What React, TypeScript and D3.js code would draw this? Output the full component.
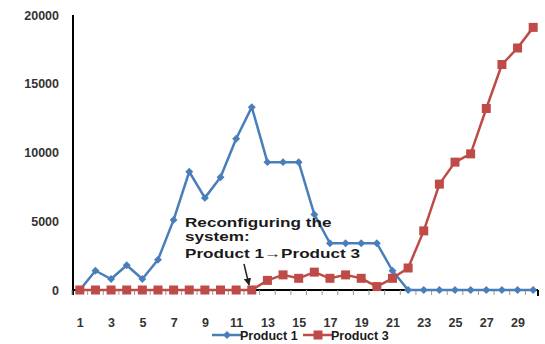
import React, { useEffect, useRef } from "react";
import * as d3 from "d3";

const days = d3.range(1, 31);
const product1 = [0, 1400, 800, 1800, 800, 2200, 5100, 8600, 6700, 8200, 11000, 13300, 9300, 9300, 9300, 5500, 3400, 3400, 3400, 3400, 1400, 0, 0, 0, 0, 0, 0, 0, 0, 0];
const product3 = [0, 0, 0, 0, 0, 0, 0, 0, 0, 0, 0, 0, 700, 1100, 850, 1300, 850, 1100, 850, 250, 850, 1600, 4300, 7700, 9300, 9900, 13200, 16400, 17600, 19100];
const yTicks = [0, 5000, 10000, 15000, 20000];
const seriesNames = ["Product 1", "Product 3"];
const noteLines = ["Reconfiguring the", "system:", "Product 1\u2192Product 3"];

const W = 545, H = 344;
const BLUE = "#4a7ebb";
const RED = "#be4b48";
const FONT = "'Liberation Sans', Arial, sans-serif";

function App() {
  const ref = useRef<SVGSVGElement>(null);

  useEffect(() => {
    const svg = d3.select(ref.current);
    svg.selectAll("*").remove();

    const x = d3.scalePoint<number>().domain(days).range([72, 541]).padding(0.5);
    const y = d3.scaleLinear().domain([0, 20000]).range([290, 15]);

    // y axis
    svg.append("line")
      .attr("x1", 73).attr("x2", 73).attr("y1", 15).attr("y2", 295)
      .attr("stroke", "#000").attr("stroke-width", 2);
    svg.append("g").selectAll("text").data(yTicks).join("text")
      .attr("x", 59).attr("y", d => y(d) + 4.5)
      .attr("text-anchor", "end")
      .attr("font-family", FONT).attr("font-size", 12.5).attr("font-weight", "bold")
      .attr("fill", "#333")
      .text(d => d);

    // x axis
    const xAxis = d3.axisBottom(x).tickSize(0).tickFormat(d => (d % 2 === 1 ? String(d) : ""));
    const gx = svg.append("g").attr("transform", "translate(0,290)").call(xAxis);
    gx.select(".domain").attr("d", "M73,0H538").attr("stroke", "#000").attr("stroke-width", 2);
    gx.selectAll("text")
      .attr("dy", 0).attr("y", 37)
      .attr("font-family", FONT).attr("font-size", 12.5).attr("font-weight", "bold")
      .attr("fill", "#333");
    // small minor ticks at category boundaries
    const step = x.step();
    gx.append("g").selectAll("line").data(d3.range(0, 30)).join("line")
      .attr("x1", i => 72 + i * step).attr("x2", i => 72 + i * step)
      .attr("y1", 0).attr("y2", 5)
      .attr("stroke", "#999").attr("stroke-width", 1);
    gx.append("line").attr("x1", 538).attr("x2", 538).attr("y1", 0).attr("y2", 6)
      .attr("stroke", "#000").attr("stroke-width", 2);

    const line = d3.line<number>().x((_, i) => x(days[i])!).y(d => y(d));

    // Product 1
    svg.append("path").datum(product1).attr("d", line)
      .attr("fill", "none").attr("stroke", BLUE).attr("stroke-width", 2.5)
      .attr("stroke-linejoin", "round");
    svg.append("g").selectAll("path").data(product1).join("path")
      .attr("d", d3.symbol(d3.symbolDiamond2, 40)())
      .attr("transform", (d, i) => `translate(${x(days[i])},${y(d)})`)
      .attr("fill", BLUE);

    // Product 3
    svg.append("path").datum(product3).attr("d", line)
      .attr("fill", "none").attr("stroke", RED).attr("stroke-width", 2.5)
      .attr("stroke-linejoin", "round");
    svg.append("g").selectAll("rect").data(product3).join("rect")
      .attr("x", (d, i) => x(days[i])! - 4.5).attr("y", d => y(d) - 4.5)
      .attr("width", 9).attr("height", 9)
      .attr("fill", RED);

    // annotation (stretched horizontally like the source image)
    const note = svg.append("text")
      .attr("transform", "translate(185,0) scale(1.37,1)")
      .attr("font-family", FONT).attr("font-size", 12.5).attr("font-weight", "bold")
      .attr("fill", "#1a1a1a");
    note.selectAll("tspan").data(noteLines).join("tspan")
      .attr("x", 0).attr("y", (_, i) => [227, 241, 258][i])
      .text(d => d);
    svg.append("defs").append("marker")
      .attr("id", "arr").attr("viewBox", "0 0 10 10").attr("refX", 9).attr("refY", 5)
      .attr("markerWidth", 5).attr("markerHeight", 5).attr("orient", "auto")
      .append("path").attr("d", "M0,0L10,5L0,10z").attr("fill", "#222");
    svg.append("line")
      .attr("x1", 244).attr("y1", 264).attr("x2", 249).attr("y2", 285)
      .attr("stroke", "#222").attr("stroke-width", 1.5).attr("marker-end", "url(#arr)");

    // legend
    const lg = svg.append("g").attr("font-family", FONT).attr("font-size", 12.5).attr("font-weight", "bold");
    const items = [
      { name: seriesNames[0], color: BLUE, x0: 212, diamond: true },
      { name: seriesNames[1], color: RED, x0: 303, diamond: false },
    ];
    items.forEach(it => {
      lg.append("line").attr("x1", it.x0).attr("x2", it.x0 + 30).attr("y1", 335).attr("y2", 335)
        .attr("stroke", it.color).attr("stroke-width", 2.5);
      if (it.diamond) {
        lg.append("path").attr("d", d3.symbol(d3.symbolDiamond2, 40)())
          .attr("transform", `translate(${it.x0 + 15},335)`).attr("fill", it.color);
      } else {
        lg.append("rect").attr("x", it.x0 + 10.5).attr("y", 330.5).attr("width", 9).attr("height", 9)
          .attr("fill", it.color);
      }
      lg.append("text").attr("x", it.x0 + 28).attr("y", 339.5).attr("fill", "#1a1a1a").text(it.name);
    });
  }, []);

  return (
    <svg ref={ref} width={W} height={H}
      style={{ position: "absolute", left: 0, top: 0, background: "#fff" }} />
  );
}

export default App;
